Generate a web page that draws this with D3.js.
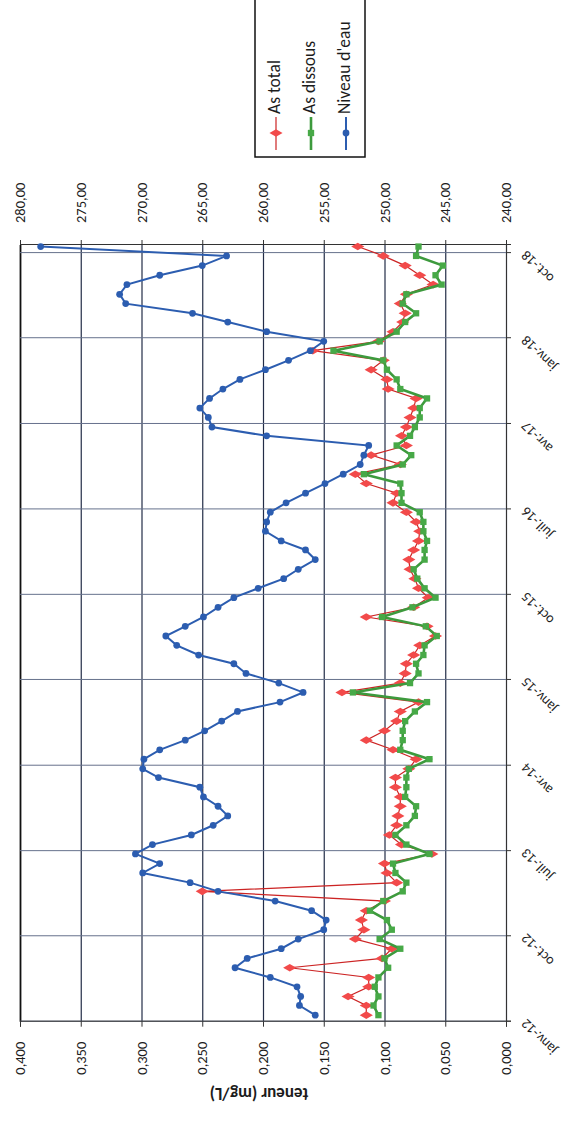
<!DOCTYPE html>
<html><head><meta charset="utf-8">
<script src="https://cdn.jsdelivr.net/npm/d3@7"></script>
<style>body{margin:0;background:#fff}svg{display:block}</style>
</head><body>
<svg id="c" width="564" height="1122"></svg>
<script>
const dates = [
"2012-01-22","2012-02-22","2012-03-22","2012-04-22","2012-05-22","2012-06-22","2012-07-22","2012-08-22","2012-09-22","2012-10-22","2012-11-22","2012-12-22",
"2013-01-22","2013-02-22","2013-03-22","2013-04-22","2013-05-22","2013-06-22","2013-07-22","2013-08-22","2013-09-22","2013-10-22","2013-11-22","2013-12-22",
"2014-01-22","2014-02-22","2014-03-22","2014-04-22","2014-05-22","2014-06-22","2014-07-22","2014-08-22","2014-09-22","2014-10-22","2014-11-22","2014-12-22",
"2015-01-22","2015-02-22","2015-03-22","2015-04-22","2015-05-22","2015-06-22","2015-07-22","2015-08-22","2015-09-22","2015-10-22","2015-11-22","2015-12-22",
"2016-01-22","2016-02-22","2016-03-22","2016-04-22","2016-05-22","2016-06-22","2016-07-22","2016-08-22","2016-09-22","2016-10-22","2016-11-22","2016-12-22",
"2017-01-22","2017-02-22","2017-03-22","2017-04-22","2017-05-22","2017-06-22","2017-07-22","2017-08-22","2017-09-22","2017-10-22","2017-11-22","2017-12-22",
"2018-01-22","2018-02-22","2018-03-22","2018-04-22","2018-05-22","2018-06-22","2018-07-22","2018-08-22","2018-09-22","2018-10-22"];
const asTotal = [
0.115,0.115,0.130,0.113,0.113,0.178,0.102,0.094,0.124,0.117,0.119,0.115,
0.100,0.250,0.090,0.098,0.100,0.061,0.086,0.096,0.090,0.089,0.087,0.087,
0.091,0.091,0.080,0.074,0.093,0.115,0.100,0.090,0.087,0.072,0.135,0.087,
0.083,0.082,0.076,0.071,0.058,0.065,0.115,0.076,0.064,0.072,0.075,0.079,
0.080,0.076,0.072,0.071,0.074,0.082,0.093,0.090,0.115,0.124,0.087,0.111,
0.082,0.086,0.082,0.079,0.076,0.074,0.097,0.098,0.111,0.101,0.159,0.105,
0.093,0.085,0.083,0.087,0.082,0.060,0.071,0.083,0.101,0.122];
const asDissous = [
0.105,0.109,0.105,0.108,0.105,0.097,0.100,0.087,0.104,0.094,0.098,0.112,
0.101,0.085,0.082,0.091,0.093,0.063,0.082,0.091,0.082,0.075,0.074,0.083,
0.082,0.082,0.080,0.063,0.087,0.085,0.085,0.083,0.075,0.065,0.126,0.079,
0.072,0.074,0.068,0.067,0.057,0.066,0.102,0.077,0.058,0.067,0.073,0.076,
0.067,0.067,0.065,0.068,0.068,0.071,0.086,0.086,0.087,0.117,0.085,0.078,
0.090,0.079,0.075,0.071,0.071,0.065,0.087,0.090,0.098,0.101,0.142,0.104,
0.090,0.083,0.074,0.085,0.082,0.053,0.058,0.052,0.074,0.072];
const niveau = [
255.7,257.0,256.9,257.2,259.4,262.3,261.3,258.5,257.1,255.0,254.8,256.0,
259.0,263.7,266.0,269.9,268.5,270.5,269.1,265.9,264.1,262.9,263.7,264.9,
265.2,268.6,269.9,269.8,268.5,266.4,264.8,263.4,262.1,258.6,256.7,258.7,
261.4,262.4,265.3,267.1,268.0,266.4,264.9,263.7,262.4,260.4,258.3,257.1,
255.7,256.5,258.5,259.8,259.7,259.4,258.1,256.5,254.9,253.4,252.0,251.7,
251.3,259.7,264.2,264.5,265.2,264.4,263.3,261.9,259.8,257.9,256.1,255.0,
259.7,262.9,265.8,271.3,271.8,271.2,268.5,265.0,263.0,278.3];
const tickDates = ["2012-01-01","2012-10-01","2013-07-01","2014-04-01","2015-01-01","2015-10-01","2016-07-01","2017-04-01","2018-01-01","2018-10-01"];
const tickLabels = ["janv.-12","oct.-12","juil.-13","avr.-14","janv.-15","oct.-15","juil.-16","avr.-17","janv.-18","oct.-18"];
const leftTicks = [0,0.05,0.1,0.15,0.2,0.25,0.3,0.35,0.4];
const rightTicks = [240,245,250,255,260,265,270,275,280];
const seriesNames = ["As total","As dissous","Niveau d'eau"];
const axisTitle = "teneur (mg/L)";

const W = 1122;
const FONT = "Carlito, Lato, 'Liberation Sans', sans-serif";
const TXT = "#1c1c1c";
const svg = d3.select("#c");
const g = svg.append("g").attr("transform", `translate(0,${W}) rotate(-90)`);
const parse = d3.utcParse("%Y-%m-%d");
const U0 = 100.3, U1 = 877, V0 = 20, V1 = 506;
const x = d3.scaleUtc().domain([parse("2012-01-01"), parse("2018-10-27")]).range([U0, U1]);
const yL = d3.scaleLinear().domain([0, 0.4]).range([V1, V0]);
const yR = d3.scaleLinear().domain([240, 280]).range([V1, V0]);
const comma = f => d => d3.format(f)(d).replace(".", ",");

// gridlines (value)
g.append("g").attr("transform", `translate(${U0},0)`)
  .call(d3.axisLeft(yL).tickValues(leftTicks).tickSize(-(U1 - U0)).tickFormat(""))
  .call(s => s.select(".domain").remove())
  .call(s => s.selectAll("line").attr("stroke", d => d === 0.4 ? "#111" : "#232d47")
     .attr("stroke-width", d => d === 0.4 ? 1.8 : 1.2));
// gridlines (dates)
g.append("g").attr("transform", `translate(0,${V0})`)
  .call(d3.axisTop(x).tickValues(tickDates.map(parse)).tickSize(-(V1 - V0)).tickFormat(""))
  .call(s => s.select(".domain").remove())
  .call(s => s.selectAll("line").attr("stroke", "#66718c").attr("stroke-width", 1));

// left (primary) axis
g.append("g").attr("transform", `translate(${U0},0)`)
  .call(d3.axisLeft(yL).tickValues(leftTicks).tickSize(5).tickPadding(15).tickFormat(comma(".3f")))
  .call(s => s.select(".domain").attr("stroke", "#333"))
  .call(s => s.selectAll("line").attr("stroke", "#333"))
  .call(s => s.selectAll("text").attr("font-family", FONT).attr("font-size", 14.5).attr("fill", TXT));
// right (secondary) axis
g.append("g").attr("transform", `translate(${U1},0)`)
  .call(d3.axisRight(yR).tickValues(rightTicks).tickSize(5).tickPadding(17).tickFormat(comma(".2f")))
  .call(s => s.select(".domain").attr("stroke", "#333"))
  .call(s => s.selectAll("line").attr("stroke", "#333"))
  .call(s => s.selectAll("text").attr("font-family", FONT).attr("font-size", 14.5).attr("fill", TXT));
// date axis
g.append("g").attr("transform", `translate(0,${V1})`)
  .call(d3.axisBottom(x).tickValues(tickDates.map(parse)).tickSize(5).tickFormat((d, i) => tickLabels[i]))
  .call(s => s.select(".domain").attr("stroke", "#333"))
  .call(s => s.selectAll("line").attr("stroke", "#333"))
  .call(s => s.selectAll("text").attr("font-family", FONT).attr("font-size", 14).attr("fill", TXT)
     .attr("x", 0).attr("y", 0).attr("dy", 0).attr("text-anchor", "end")
     .attr("transform", "translate(3,21) rotate(-45)"));

// axis title
g.append("text").attr("transform", `translate(30,${(V0 + V1) / 2 - 4}) rotate(-90)`)
  .attr("text-anchor", "middle").attr("dominant-baseline", "middle")
  .attr("font-family", FONT).attr("font-weight", "bold").attr("font-size", 17).attr("fill", TXT)
  .text(axisTitle);

const pts = (vals, sc) => vals.map((v, i) => [x(parse(dates[i])), sc(v)]);
const line = d3.line();
const styles = [
  {vals: asTotal, sc: yL, stroke: "#cc2424", sw: 1.2, fill: "#f24a4a", sym: d3.symbolDiamond, size: 50},
  {vals: asDissous, sc: yL, stroke: "#3d9a3d", sw: 2.6, fill: "#47a947", sym: d3.symbolSquare, size: 40},
  {vals: niveau, sc: yR, stroke: "#2c5db0", sw: 2, fill: "#2c5db0", sym: d3.symbolCircle, size: 36}
];
styles.forEach(s => {
  const p = pts(s.vals, s.sc);
  g.append("path").attr("d", line(p)).attr("fill", "none").attr("stroke", s.stroke).attr("stroke-width", s.sw);
  g.append("g").selectAll("path").data(p).join("path")
    .attr("transform", d => `translate(${d[0]},${d[1]})`)
    .attr("d", d3.symbol(s.sym, s.size)).attr("fill", s.fill);
});

// legend
const lg = g.append("g");
lg.append("rect").attr("x", 965).attr("y", 255).attr("width", 200).attr("height", 110)
  .attr("fill", "#fff").attr("stroke", "#111").attr("stroke-width", 1.5);
seriesNames.forEach((n, i) => {
  const v = 276 + i * 35, s = styles[i];
  lg.append("line").attr("x1", 972).attr("x2", 1005).attr("y1", v).attr("y2", v)
    .attr("stroke", s.stroke).attr("stroke-width", s.sw);
  lg.append("path").attr("transform", `translate(989,${v})`).attr("d", d3.symbol(s.sym, s.size)).attr("fill", s.fill);
  lg.append("text").attr("x", 1008).attr("y", v).attr("dominant-baseline", "middle")
    .attr("font-family", FONT).attr("font-size", 17.5).attr("fill", TXT).text(n);
});
</script>
</body></html>
